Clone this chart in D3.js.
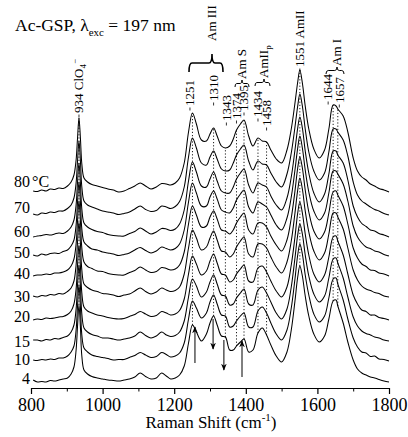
<!DOCTYPE html>
<html><head><meta charset="utf-8">
<script src="https://cdn.jsdelivr.net/npm/d3@7"></script>
<style>
body{margin:0;background:#fff}
svg{display:block}
text{font-family:"Liberation Serif","Times New Roman",serif;fill:#000}
</style>
</head><body>
<svg id="c" width="408" height="437"></svg>
<script>
// ---------------- DATA ----------------
const wavenumbers = [806,818,830,842,854,866,878,890,902, 912,920,926,930,934,938,942,948,
  958,970,985,1000,1015,1030,1045,1060,1075,1090,1105,1120,1135,1150,1165,1178,1190,1203,1215,
  1228,1240,1251,1262,1276,1290,1300,1310,1320,1332,1343,1355,1365,1374,1385,1395,1408,1420,1434,1446,1458,1470,1485,1500,
  1515,1527,1537,1545,1551,1558,1566,1576,1590,1605,1620,1632,1644,1652,1657,1672,1685,1700,
  1712,1724,1736,1748,1760,1772,1786,1800];

const temperatures = [4,10,15,20,30,40,50,60,70,80];
const offsets = [0.8,2.9,4.9,7.0,9.3,11.4,13.4,15.3,17.5,19.8];

const s4 = [0.2,0.0,0.05,0.0,0.15,0.1,0.2,0.3,0.4, 0.8,1.5,3.2,5.6,7.7,5.5,2.6,1.2,
  0.8,0.55,0.4,0.3,0.2,0.15,0.1,0.2,0.3,0.5,0.9,0.55,0.3,0.4,0.9,0.6,0.3,0.4,0.7,
  1.6,3.9,5.7,5.0,4.1,4.8,5.9,6.6,5.7,4.6,4.5,3.2,3.2,3.6,4.0,4.3,3.0,3.2,4.9,5.4,4.7,3.7,2.6,2.0,
  3.0,5.2,8.0,10.5,11.6,10.6,8.6,6.6,4.8,4.0,4.6,6.3,8.1,8.2,7.6,5.9,4.0,2.2,
  1.3,0.9,0.7,0.5,0.4,0.25,0.1,0.0];
const s10 = [0.1,0.05,0.15,0.1,0.2,0.15,0.3,0.3,0.5, 0.9,1.5,3.1,5.5,7.6,5.4,2.6,1.3,
  0.9,0.6,0.45,0.35,0.25,0.1,0.15,0.15,0.35,0.55,0.85,0.6,0.35,0.45,0.85,0.65,0.4,0.5,0.8,
  1.8,4.2,6.0,5.3,4.3,4.8,5.9,6.6,5.7,4.6,4.5,3.4,3.5,4.0,4.5,4.8,3.4,3.4,5.0,5.4,4.8,3.8,2.7,2.1,
  3.1,5.3,8.1,10.6,11.7,10.7,8.6,6.6,4.7,3.9,4.5,6.3,8.2,8.3,7.7,6.1,4.2,2.3,
  1.4,0.9,0.8,0.45,0.5,0.2,0.15,0.0];
const s15 = [0.1,0.1,0.0,0.15,0.1,0.25,0.2,0.35,0.5, 0.9,1.6,3.2,5.6,7.6,5.5,2.7,1.3,
  0.9,0.65,0.5,0.3,0.3,0.2,0.1,0.2,0.3,0.5,0.9,0.55,0.3,0.5,0.9,0.6,0.45,0.55,0.9,
  2.0,4.4,6.2,5.5,4.4,4.9,5.9,6.6,5.7,4.6,4.5,3.6,3.7,4.3,4.8,5.2,3.7,3.6,5.1,5.4,4.8,3.9,2.8,2.2,
  3.2,5.4,8.2,10.6,11.7,10.7,8.6,6.5,4.7,3.9,4.5,6.3,8.2,8.3,7.8,6.3,4.4,2.4,
  1.5,1.0,0.75,0.6,0.4,0.3,0.1,0.0];
const s20 = [0.0,0.1,0.05,0.2,0.15,0.2,0.3,0.35,0.55, 0.9,1.6,3.1,5.5,7.5,5.4,2.7,1.3,
  0.9,0.7,0.5,0.4,0.25,0.15,0.1,0.15,0.35,0.55,0.85,0.6,0.35,0.45,0.85,0.7,0.5,0.6,0.95,
  2.1,4.6,6.4,5.6,4.5,4.9,5.9,6.6,5.7,4.6,4.5,3.8,4.0,4.6,5.1,5.5,3.9,3.8,5.2,5.4,4.8,3.9,2.9,2.3,
  3.3,5.5,8.2,10.7,11.8,10.7,8.6,6.5,4.6,3.8,4.5,6.3,8.3,8.4,7.9,6.5,4.6,2.5,
  1.6,1.0,0.85,0.5,0.5,0.25,0.15,0.0];
const s30 = [0.1,0.0,0.15,0.1,0.25,0.2,0.35,0.3,0.55, 0.9,1.6,3.2,5.5,7.5,5.4,2.7,1.3,
  0.95,0.7,0.55,0.35,0.3,0.2,0.05,0.2,0.3,0.6,0.9,0.55,0.3,0.5,0.9,0.7,0.55,0.65,1.0,
  2.3,4.9,6.7,5.9,4.7,5.0,5.9,6.6,5.7,4.6,4.5,4.0,4.3,5.0,5.6,6.0,4.3,4.0,5.3,5.3,4.9,4.0,3.0,2.4,
  3.5,5.6,8.3,10.7,11.9,10.8,8.6,6.5,4.6,3.7,4.4,6.3,8.4,8.4,8.0,6.8,4.9,2.7,
  1.7,1.1,0.8,0.65,0.45,0.35,0.1,0.0];
const s40 = [0.0,0.1,0.1,0.2,0.15,0.3,0.3,0.4,0.6, 1.0,1.7,3.2,5.5,7.5,5.5,2.8,1.4,
  0.95,0.75,0.5,0.45,0.25,0.15,0.1,0.1,0.35,0.55,0.9,0.6,0.35,0.45,0.85,0.75,0.6,0.7,1.1,
  2.4,5.2,7.0,6.1,4.9,5.0,5.9,6.5,5.7,4.6,4.5,4.2,4.6,5.3,5.9,6.3,4.6,4.2,5.3,5.3,4.9,4.0,3.1,2.5,
  3.6,5.8,8.4,10.8,11.9,10.8,8.6,6.4,4.5,3.7,4.4,6.3,8.4,8.5,8.1,7.0,5.2,2.8,
  1.8,1.2,0.95,0.6,0.55,0.3,0.2,0.0];
const s50 = [0.1,0.0,0.2,0.1,0.25,0.3,0.25,0.45,0.6, 1.0,1.6,3.1,5.4,7.4,5.4,2.7,1.4,
  1.0,0.7,0.6,0.4,0.3,0.2,0.05,0.15,0.3,0.6,0.85,0.55,0.3,0.5,0.9,0.75,0.6,0.75,1.2,
  2.6,5.4,7.3,6.3,5.0,5.0,5.9,6.5,5.7,4.6,4.4,4.3,4.8,5.6,6.2,6.6,4.9,4.3,5.4,5.2,4.9,4.1,3.1,2.6,
  3.8,5.9,8.5,10.8,12.0,10.8,8.6,6.4,4.5,3.6,4.3,6.3,8.5,8.5,8.2,7.2,5.5,3.0,
  1.9,1.3,0.9,0.75,0.5,0.4,0.15,0.0];
const s60 = [0.0,0.1,0.15,0.25,0.2,0.3,0.4,0.35,0.6, 1.0,1.7,3.2,5.5,7.4,5.4,2.8,1.4,
  1.0,0.75,0.55,0.45,0.25,0.15,0.1,0.1,0.35,0.55,0.9,0.6,0.3,0.5,0.85,0.8,0.65,0.8,1.3,
  2.7,5.6,7.5,6.5,5.1,5.0,5.8,6.5,5.6,4.6,4.4,4.4,5.0,5.8,6.4,6.8,5.2,4.4,5.4,5.2,5.0,4.1,3.2,2.7,
  3.9,6.0,8.6,10.9,12.0,10.9,8.6,6.4,4.4,3.5,4.3,6.3,8.6,8.6,8.2,7.4,5.7,3.1,
  2.0,1.35,1.05,0.7,0.6,0.35,0.2,0.0];
const s70 = [0.1,0.0,0.2,0.15,0.3,0.25,0.4,0.4,0.65, 1.0,1.7,3.2,5.4,7.4,5.4,2.8,1.4,
  1.0,0.8,0.6,0.4,0.3,0.2,0.05,0.15,0.3,0.6,0.9,0.55,0.35,0.45,0.9,0.8,0.65,0.85,1.35,
  2.8,5.8,7.7,6.7,5.2,5.0,5.8,6.4,5.6,4.6,4.4,4.5,5.2,6.0,6.6,7.0,5.4,4.5,5.4,5.1,5.0,4.2,3.3,2.8,
  4.1,6.2,8.7,10.9,12.1,10.9,8.6,6.3,4.4,3.5,4.2,6.3,8.6,8.6,8.3,7.5,5.9,3.3,
  2.0,1.4,1.1,0.8,0.55,0.4,0.15,0.0];
const s80 = [0.1,0.05,0.2,0.1,0.3,0.25,0.4,0.35,0.6, 1.0,1.7,3.2,5.4,7.4,5.4,2.8,1.4,
  1.0,0.75,0.6,0.45,0.3,0.2,0.0,0.1,0.35,0.6,0.9,0.6,0.3,0.5,0.85,0.8,0.7,0.9,1.4,
  2.9,6.0,7.9,6.8,5.2,5.1,5.8,6.4,5.6,4.6,4.4,4.6,5.3,6.2,6.8,7.2,5.6,4.6,5.4,5.1,5.0,4.2,3.3,2.9,
  4.2,6.3,8.8,11.0,12.2,10.9,8.6,6.3,4.3,3.4,4.2,6.3,8.7,8.6,8.3,7.6,6.0,3.4,
  2.1,1.5,1.2,0.8,0.6,0.35,0.2,0.0];
const spectra = [s4,s10,s15,s20,s30,s40,s50,s60,s70,s80];

const xTickValues = [800,1000,1200,1400,1600,1800];
const xMinorTicks = [900,1100,1300,1500,1700];
const peakPositions = [934,1251,1310,1343,1374,1395,1434,1458,1551,1644,1657];
const peakTexts = ["934 ClO","1251","1310","1343","1374","1395","1434","1458","1551 AmII","1644","1657"];
const arrowPositions = [1251,1310,1343,1395];
const arrowDirections = ["up","down","down","up"];

// ---------------- LAYOUT ----------------
const svg = d3.select("#c");
const x = d3.scaleLinear().domain([800,1800]).range([31,389]);
const y = d3.scaleLinear().domain([0,33]).range([390,60]);
const idx = w => wavenumbers.indexOf(w);

svg.append("defs").append("marker").attr("id","ah").attr("viewBox","0 0 10 10")
  .attr("refX",9).attr("refY",5).attr("markerWidth",7).attr("markerHeight",7)
  .attr("orient","auto-start-reverse").attr("markerUnits","userSpaceOnUse")
  .append("path").attr("d","M0,1 L10,5 L0,9 L3,5 Z").attr("fill","#000");

// spectra
const line = d3.line().x(d=>x(d[0])).y(d=>y(d[1])).curve(d3.curveCatmullRom.alpha(0.5));
spectra.forEach((s,k)=>{
  const pts = wavenumbers.map((w,i)=>[w, s[i]+offsets[k]]);
  svg.append("path").attr("d",line(pts)).attr("fill","none")
    .attr("stroke","#000").attr("stroke-width",1.05).attr("stroke-linejoin","round");
});

// dotted peak lines from lowest to highest spectrum
peakPositions.forEach(p=>{
  const i = idx(p);
  svg.append("line").attr("x1",x(p)).attr("x2",x(p))
    .attr("y1",y(s4[i]+offsets[0])).attr("y2",y(s80[i]+offsets[9]))
    .attr("stroke","#000").attr("stroke-width",0.9).attr("stroke-dasharray","1.2,2");
});

// arrows
const arrowDx = [2.5,-0.5,-1.5,-2];
arrowPositions.forEach((p,k)=>{
  const yp = y(s4[idx(p)]+offsets[0]);
  const xx = x(p)+arrowDx[k];
  const up = arrowDirections[k]==="up";
  const len = up ? 36 : 30;
  const a = up ? [yp+38, yp+2] : [yp+3, yp+3+len];
  svg.append("line").attr("x1",xx).attr("x2",xx).attr("y1",a[0]).attr("y2",a[1])
    .attr("stroke","#000").attr("stroke-width",1).attr("marker-end","url(#ah)");
});

// rotated peak labels
const labelDx = [0,-2.5,0,1,0,0,0,0,0,-5,1.5];
const labelBottom = [113,106,101,121,119,111,117,126,67,100,103];
peakPositions.forEach((p,k)=>{
  const cx = x(p)+labelDx[k]+4.3, by = labelBottom[k];
  const t = svg.append("text").attr("transform",`translate(${cx},${by}) rotate(-90)`)
    .attr("font-size",13);
  t.append("tspan").text(peakTexts[k]);
  if(k===0){
    t.append("tspan").attr("font-size",9).attr("dy",3).text("4");
    t.append("tspan").attr("font-size",9).attr("dy",-8).text("\u2212");
  }
  svg.append("line").attr("x1",x(p)+labelDx[k]).attr("x2",x(p)+labelDx[k])
    .attr("y1",by+1.5).attr("y2",by+4.5).attr("stroke","#000").attr("stroke-width",0.8);
});

// group braces + labels
function brace(x1,x2,xt,yb,h){
  const ym=yb-h/2, q=Math.min(3,(x2-x1)/8);
  return `M${x1},${yb} Q${x1},${ym} ${x1+q},${ym} L${xt-q},${ym} Q${xt},${ym} ${xt},${yb-h} Q${xt},${ym} ${xt+q},${ym} L${x2-q},${ym} Q${x2},${ym} ${x2},${yb}`;
}
const groups = [
  {x1:189,x2:223,xt:212,yb:72,h:18,tb:41,text:"Am III",sub:""},
  {x1:235,x2:249,xt:242,yb:87,h:7,tb:79,text:"Am S",sub:""},
  {x1:255,x2:270,xt:264,yb:86,h:7,tb:78,text:"AmII",sub:"p"},
  {x1:326,x2:344,xt:337,yb:74,h:7,tb:66,text:"Am I",sub:""}
];
groups.forEach(g=>{
  svg.append("path").attr("d",brace(g.x1,g.x2,g.xt,g.yb,g.h)).attr("fill","none")
    .attr("stroke","#000").attr("stroke-width",g.h>10?1.6:1);
  const t = svg.append("text").attr("transform",`translate(${g.xt+4.3},${g.tb}) rotate(-90)`)
    .attr("font-size",13);
  t.append("tspan").text(g.text);
  if(g.sub) t.append("tspan").attr("font-size",9).attr("dy",3).text(g.sub);
});

// temperature labels
const labelDy = [2,4,6,2,5,3,2,0,-2,-5];
temperatures.forEach((T,k)=>{
  svg.append("text").attr("x",30).attr("y",y(offsets[k])+labelDy[k])
    .attr("text-anchor","end").attr("font-size",16).text(T);
});
svg.append("text").attr("x",32).attr("y",y(offsets[9])+labelDy[9]).attr("font-size",16).text("\u00B0C");

// axis
const gx = svg.append("g").attr("transform","translate(0,388)")
  .call(d3.axisBottom(x).tickValues(xTickValues).tickSize(6).tickSizeOuter(0).tickPadding(4).tickFormat(d3.format("d")));
gx.selectAll("text").attr("font-size",18).attr("font-family","Liberation Serif");
gx.select(".domain").attr("stroke-width",1.2);
gx.selectAll(".tick line").attr("stroke-width",1.2);
svg.append("g").attr("transform","translate(0,388)")
  .call(d3.axisBottom(x).tickValues(xMinorTicks).tickSize(3.5).tickSizeOuter(0).tickFormat(""))
  .call(g=>g.select(".domain").remove());

// axis title
const at = svg.append("text").attr("x",211).attr("y",428).attr("text-anchor","middle").attr("font-size",17);
at.append("tspan").text("Raman Shift (cm");
at.append("tspan").attr("font-size",11).attr("dy",-7).text("-1");
at.append("tspan").attr("dy",7).text(")");

// title
const tt = svg.append("text").attr("x",15).attr("y",31).attr("font-size",17.5);
tt.append("tspan").text("Ac-GSP, \u03BB");
tt.append("tspan").attr("font-size",11).attr("dy",5).text("exc");
tt.append("tspan").attr("dy",-5).text(" = 197 nm");
</script>
</body></html>
